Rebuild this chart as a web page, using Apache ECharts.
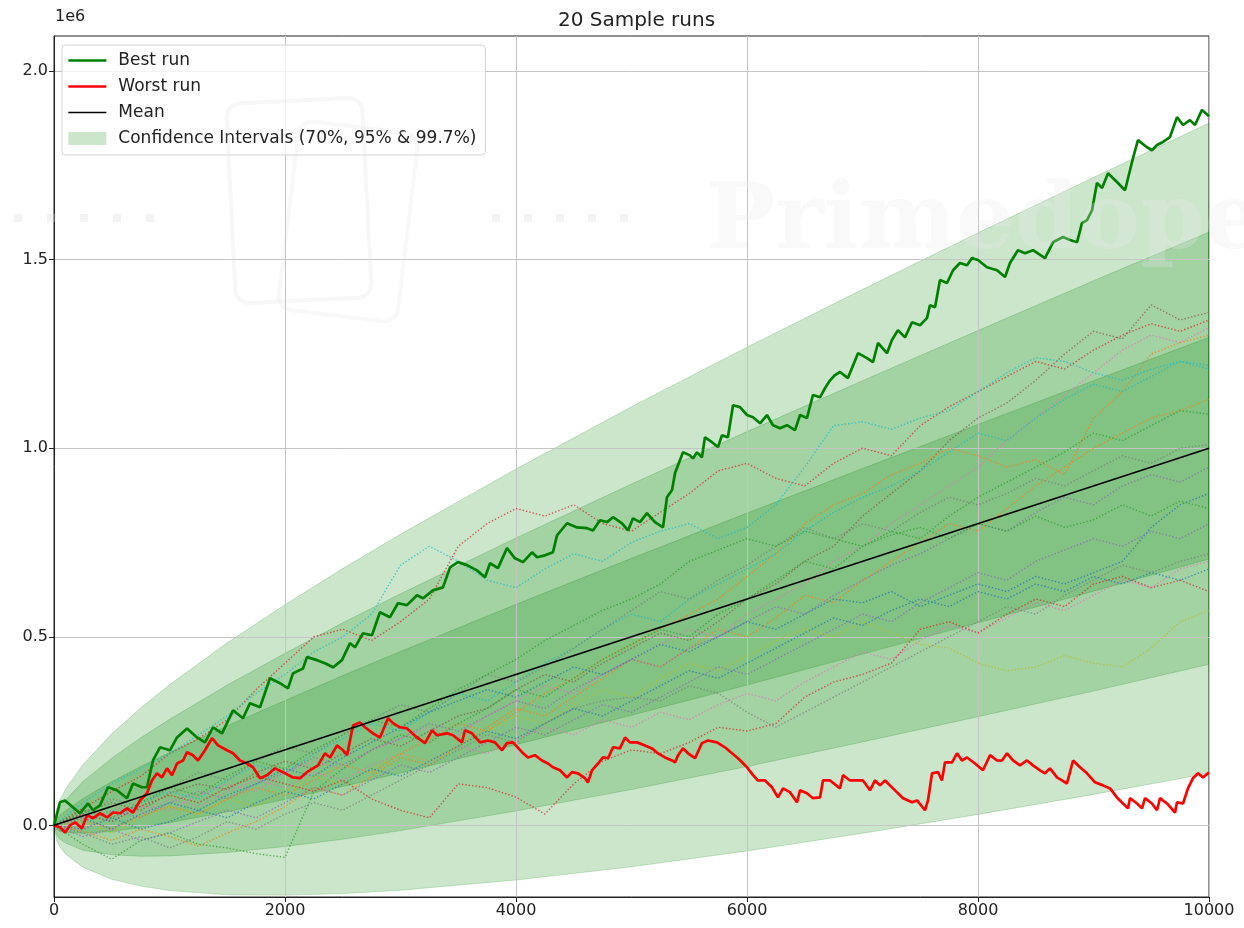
<!DOCTYPE html>
<html>
<head>
<meta charset="utf-8">
<script src="https://cdn.jsdelivr.net/npm/echarts@6/dist/echarts.min.js"></script>
<style>
  html, body { margin: 0; padding: 0; background: #ffffff; }
  #chart { width: 1244px; height: 928px; }
</style>
</head>
<body>
<div id="chart"></div>
<script>
// All balances are in thousands; the y axis is labelled in millions (offset "1e6").

// Confidence bands (70%, 95%, 99.7%) around the expected balance
const bandSteps  = [0, 25, 50, 100, 250, 500, 750, 1000, 1500, 2000, 2500, 3000, 4000, 5000, 6000, 7000, 8000, 9000, 10000];
const ci997Upper = [0, 46, 66, 96, 161, 243, 311, 373, 484, 585, 681, 772, 945, 1110, 1268, 1421, 1571, 1718, 1862];
const ci997Lower = [0, -41, -56, -76, -111, -143, -161, -173, -184, -185, -181, -172, -145, -110, -68, -21, 29, 82, 138];
const ci95Upper  = [0, 31, 46, 67, 116, 178, 232, 281, 372, 456, 537, 614, 762, 905, 1044, 1179, 1312, 1444, 1573];
const ci95Lower  = [0, -26, -36, -47, -66, -78, -82, -81, -72, -56, -37, -14, 38, 95, 156, 221, 288, 356, 427];
const ci70Upper  = [0, 17, 26, 39, 71, 116, 156, 193, 264, 331, 397, 461, 586, 708, 828, 946, 1063, 1179, 1294];
const ci70Lower  = [0, -12, -16, -19, -21, -16, -6, 7, 36, 69, 103, 139, 214, 292, 372, 454, 537, 621, 706];

// Expected balance
const meanLine = [[0, 0], [10000, 1000]];

// Sample runs, balance every 250 steps
const runSteps = [0, 250, 500, 750, 1000, 1250, 1500, 1750, 2000, 2250, 2500, 2750, 3000, 3250, 3500, 3750, 4000, 4250, 4500, 4750, 5000,
                  5250, 5500, 5750, 6000, 6250, 6500, 6750, 7000, 7250, 7500, 7750, 8000, 8250, 8500, 8750, 9000, 9250, 9500, 9750, 10000];
const run01 = [0, 35, 60, 40, 85, 110, 95, 140, 170, 150, 190, 230, 210, 250, 290, 310, 360, 400, 380, 430, 470, 510, 490, 540, 600, 640, 700, 740, 820, 880, 940, 1020, 1080, 1120, 1180, 1250, 1310, 1290, 1380, 1340, 1360];
const run02 = [0, 45, 90, 130, 190, 230, 280, 360, 430, 500, 520, 490, 540, 600, 740, 800, 840, 820, 850, 800, 780, 830, 880, 940, 960, 920, 900, 960, 1000, 980, 1060, 1110, 1150, 1190, 1230, 1210, 1260, 1300, 1330, 1310, 1340];
const run03 = [0, -10, 20, 50, 40, 80, 110, 90, 140, 170, 150, 200, 230, 260, 240, 290, 330, 370, 350, 400, 440, 480, 520, 500, 560, 600, 640, 700, 740, 800, 850, 900, 950, 1020, 1080, 1140, 1200, 1260, 1300, 1280, 1320];
const run04 = [0, 15, -10, 25, 50, 30, 70, 100, 80, 120, 160, 140, 190, 230, 270, 250, 300, 350, 390, 440, 480, 520, 560, 600, 660, 720, 800, 850, 880, 930, 960, 1000, 980, 950, 970, 930, 1080, 1150, 1250, 1280, 1300];
const run05 = [0, 60, 110, 150, 190, 240, 290, 350, 400, 460, 500, 560, 690, 740, 700, 650, 630, 680, 720, 700, 750, 780, 800, 760, 790, 850, 950, 1060, 1070, 1050, 1080, 1100, 1150, 1200, 1240, 1230, 1200, 1180, 1210, 1230, 1220];
const run06 = [0, 30, 10, 60, 90, 70, 120, 160, 140, 190, 230, 270, 250, 300, 350, 330, 380, 430, 470, 520, 560, 540, 600, 640, 680, 720, 780, 830, 870, 900, 940, 990, 1040, 1020, 1080, 1130, 1170, 1150, 1190, 1230, 1210];
const run07 = [0, -15, -40, -10, -30, -55, -20, 10, 50, 100, 80, 130, 180, 160, 210, 260, 310, 290, 340, 390, 440, 420, 470, 520, 500, 550, 610, 590, 650, 700, 750, 800, 780, 840, 900, 950, 1000, 1040, 1080, 1100, 1130];
const run08 = [0, -50, -90, -40, -20, -50, -60, -75, -85, 90, 150, 200, 240, 220, 270, 310, 360, 340, 390, 440, 480, 520, 500, 560, 600, 650, 700, 680, 740, 780, 760, 820, 870, 910, 950, 990, 1040, 1020, 1060, 1100, 1090];
const run09 = [0, 30, 70, 50, 100, 140, 120, 170, 210, 190, 240, 280, 320, 300, 350, 400, 380, 420, 470, 520, 570, 620, 600, 650, 690, 740, 790, 760, 800, 780, 830, 870, 850, 880, 920, 900, 940, 980, 960, 1000, 1010];
const run10 = [0, 10, 40, 20, 60, 90, 70, 110, 140, 180, 160, 200, 230, 270, 250, 290, 330, 310, 360, 400, 440, 420, 470, 500, 540, 580, 560, 610, 650, 690, 720, 760, 800, 780, 830, 870, 850, 900, 930, 910, 950];
const run11 = [0, 20, -10, 30, 60, 40, 80, 110, 150, 130, 180, 220, 260, 300, 330, 360, 340, 380, 420, 400, 440, 480, 460, 500, 540, 520, 560, 600, 590, 620, 580, 610, 640, 620, 660, 640, 670, 700, 790, 850, 880];
const run12 = [0, 40, 20, 60, 100, 80, 130, 170, 150, 200, 240, 280, 260, 310, 360, 400, 440, 490, 530, 570, 600, 640, 700, 730, 760, 740, 780, 760, 740, 770, 790, 760, 800, 780, 820, 790, 810, 850, 820, 860, 840];
const run13 = [0, -30, -10, -40, -20, 10, 40, 20, 60, 100, 80, 120, 160, 140, 180, 220, 260, 240, 280, 320, 300, 340, 380, 420, 400, 440, 480, 520, 560, 540, 590, 630, 670, 650, 700, 730, 760, 740, 780, 760, 800];
const run14 = [0, 20, 50, 30, 70, 50, 90, 120, 100, 140, 120, 160, 190, 170, 210, 190, 230, 260, 240, 280, 260, 300, 280, 320, 350, 330, 380, 420, 460, 440, 490, 530, 510, 550, 590, 570, 610, 650, 630, 680, 700];
const run15 = [0, 30, 10, 50, 80, 60, 100, 130, 110, 90, 120, 70, 40, 20, 110, 100, 75, 30, 110, 170, 200, 190, 220, 260, 250, 270, 340, 380, 400, 430, 520, 540, 510, 560, 600, 580, 640, 660, 630, 650, 620];
const run16 = [0, -20, -50, -30, -60, -30, 10, -10, 30, 60, 40, 80, 120, 160, 200, 240, 220, 270, 310, 330, 340, 330, 370, 350, 300, 260, 300, 340, 380, 420, 460, 500, 540, 580, 560, 610, 650, 690, 670, 700, 720];
const run17 = [0, 10, -20, 20, 50, 30, 70, 50, 90, 130, 110, 150, 190, 170, 210, 250, 290, 270, 320, 360, 340, 390, 430, 410, 450, 490, 520, 500, 540, 510, 480, 470, 430, 410, 420, 450, 430, 420, 470, 540, 570];
const run18 = [0, -10, 20, -10, 10, 40, 20, 60, 90, 70, 110, 150, 130, 170, 210, 250, 230, 270, 310, 290, 330, 370, 410, 390, 430, 470, 510, 550, 530, 570, 600, 580, 620, 600, 640, 620, 660, 640, 670, 650, 680];
const sampleRuns = [run01, run02, run03, run04, run05, run06, run07, run08, run09, run10, run11, run12, run13, run14, run15, run16, run17, run18];
const runColors = ['#8c564b', '#d62728', '#e377c2', '#ff7f0e', '#17becf', '#17becf', '#ff7f0e', '#2ca02c', '#7f7f7f',
                   '#9467bd', '#1f77b4', '#2ca02c', '#9467bd', '#e377c2', '#d62728', '#7f7f7f', '#bcbd22', '#1f77b4'];

// Best and worst runs, [step, balance]
const bestRun = [[0,0],[9,5],[52,61],[95,66],[164,48],[225,32],[294,58],[338,40],[398,53],[468,101],[545,93],[632,72],[684,111],[762,101],[805,101],[857,172],[918,207],[1004,199],[1065,233],[1152,257],[1238,233],[1307,220],[1377,260],[1455,244],[1550,305],[1636,284],[1697,324],[1784,313],[1870,390],[1957,377],[2026,363],[2069,403],[2156,416],[2190,446],[2277,438],[2346,430],[2416,419],[2493,438],[2563,483],[2606,472],[2675,509],[2753,504],[2822,565],[2909,552],[2978,589],[3056,584],[3143,610],[3195,602],[3281,623],[3368,631],[3429,684],[3498,698],[3576,690],[3662,676],[3732,658],[3775,695],[3844,682],[3922,735],[3991,708],[4061,698],[4139,724],[4182,711],[4251,716],[4320,724],[4355,769],[4442,801],[4528,790],[4615,788],[4667,782],[4727,809],[4788,804],[4840,817],[4918,801],[4970,782],[5013,814],[5074,804],[5134,828],[5203,804],[5273,790],[5307,870],[5351,889],[5377,934],[5446,989],[5506,981],[5532,973],[5567,989],[5610,976],[5636,1029],[5697,1016],[5749,1003],[5783,1034],[5835,1029],[5879,1114],[5939,1109],[6000,1088],[6052,1082],[6113,1066],[6173,1088],[6225,1061],[6286,1053],[6346,1061],[6416,1048],[6459,1088],[6519,1080],[6571,1141],[6632,1135],[6675,1159],[6719,1180],[6762,1194],[6805,1202],[6874,1186],[6961,1252],[7039,1239],[7091,1228],[7134,1279],[7212,1252],[7255,1287],[7307,1313],[7368,1294],[7429,1334],[7498,1326],[7558,1345],[7584,1379],[7628,1374],[7671,1446],[7732,1438],[7784,1472],[7844,1491],[7905,1485],[7948,1504],[8000,1499],[8078,1480],[8165,1472],[8234,1454],[8277,1491],[8346,1525],[8407,1517],[8476,1525],[8580,1504],[8649,1546],[8736,1560],[8797,1552],[8857,1546],[8900,1597],[8944,1605],[8987,1631],[9030,1703],[9074,1690],[9126,1729],[9203,1706],[9273,1684],[9316,1737],[9342,1769],[9385,1817],[9463,1798],[9506,1790],[9550,1804],[9602,1812],[9662,1825],[9723,1878],[9775,1857],[9835,1870],[9879,1857],[9939,1897],[9991,1883],[10000,1880]];
const worstRun = [[0,0],[9,0],[52,-5],[95,-19],[139,0],[182,8],[242,-8],[286,27],[338,19],[398,32],[459,21],[511,34],[571,32],[632,45],[684,34],[745,66],[805,85],[848,119],[892,138],[935,127],[978,151],[1022,133],[1065,164],[1117,172],[1152,194],[1203,186],[1247,172],[1307,199],[1368,231],[1420,212],[1498,199],[1550,191],[1610,172],[1671,164],[1723,154],[1784,125],[1844,133],[1913,151],[1983,141],[2069,127],[2130,125],[2190,141],[2242,151],[2286,159],[2346,191],[2390,180],[2450,212],[2502,199],[2537,186],[2589,265],[2649,273],[2693,260],[2762,244],[2822,233],[2892,284],[2935,271],[2996,260],[3056,257],[3143,233],[3212,218],[3273,252],[3316,239],[3403,244],[3455,239],[3532,220],[3558,252],[3619,244],[3688,220],[3758,225],[3818,220],[3879,199],[3922,218],[3974,220],[4052,194],[4104,180],[4164,186],[4225,172],[4277,164],[4320,154],[4381,146],[4442,127],[4485,141],[4537,138],[4597,125],[4623,114],[4658,146],[4710,164],[4753,180],[4797,178],[4840,207],[4900,204],[4944,233],[4987,220],[5048,220],[5117,212],[5177,204],[5229,191],[5290,180],[5351,172],[5377,167],[5403,186],[5446,204],[5489,191],[5550,178],[5610,218],[5662,225],[5740,220],[5809,207],[5870,191],[5922,178],[6000,154],[6052,133],[6095,119],[6156,119],[6216,101],[6268,74],[6312,98],[6372,88],[6433,61],[6459,93],[6519,85],[6571,72],[6632,74],[6658,119],[6719,119],[6805,98],[6831,133],[6892,119],[6952,119],[7004,119],[7065,93],[7108,119],[7152,106],[7195,119],[7264,98],[7351,72],[7429,61],[7472,66],[7541,40],[7567,66],[7602,138],[7654,141],[7688,119],[7714,167],[7775,167],[7818,191],[7861,172],[7905,180],[7974,164],[8043,146],[8104,186],[8165,172],[8208,172],[8251,191],[8303,172],[8364,159],[8424,172],[8476,159],[8537,146],[8580,138],[8623,151],[8684,127],[8727,119],[8770,111],[8823,172],[8883,154],[8944,138],[9013,114],[9082,106],[9143,98],[9203,74],[9255,58],[9299,45],[9316,72],[9377,58],[9420,45],[9446,72],[9506,58],[9550,40],[9576,72],[9636,58],[9706,34],[9723,61],[9775,58],[9818,98],[9861,125],[9905,138],[9948,127],[9991,138],[10000,140]];

// Axis ticks
const yTickValues = [0, 500, 1000, 1500, 2000];

const CI_NAME = 'Confidence Intervals (70%, 95% & 99.7%)';
const FONT = 'DejaVu Sans';
const bandFill = 'rgba(0,128,0,0.2)';

const series = [];

// Each band is one filled polygon: upper edge left to right, lower edge back
[[ci997Lower, ci997Upper], [ci95Lower, ci95Upper], [ci70Lower, ci70Upper]].forEach(([lo, hi]) => {
  series.push({
    type: 'custom', name: CI_NAME, coordinateSystem: 'cartesian2d',
    clip: true, silent: true, z: 0,
    itemStyle: { color: bandFill },
    data: [[0, 0]],
    renderItem: (params, api) => {
      const top = bandSteps.map((s, j) => api.coord([s, hi[j]]));
      const bottom = bandSteps.map((s, j) => api.coord([s, lo[j]])).reverse();
      return {
        type: 'polygon',
        shape: { points: top.concat(bottom) },
        style: { fill: bandFill, stroke: bandFill, lineWidth: 1 }
      };
    }
  });
});

// Dotted sample runs
sampleRuns.forEach((run, i) => {
  series.push({
    type: 'line', name: 'run-' + (i + 1),
    data: runSteps.map((s, j) => [s, run[j]]),
    symbol: 'none', silent: true, z: 2,
    lineStyle: { width: 1.4, type: [1.4, 2.0], color: runColors[i], opacity: 0.75 }
  });
});

series.push({
  type: 'line', name: 'Best run', data: bestRun, symbol: 'none', z: 3, color: '#008000',
  lineStyle: { width: 2.7, color: '#008000' }
});
series.push({
  type: 'line', name: 'Worst run', data: worstRun, symbol: 'none', z: 3, color: '#ff0000',
  lineStyle: { width: 2.7, color: '#ff0000' }
});
series.push({
  type: 'line', name: 'Mean', data: meanLine, symbol: 'none', z: 3, color: '#000000',
  lineStyle: { width: 1.6, color: '#000000' }
});

// Legend entries: plain line swatches for the runs, a filled patch for the bands
const hiddenMarker = { color: 'rgba(0,0,0,0)', borderWidth: 0, opacity: 0 };
const legendData = [
  { name: 'Best run', itemStyle: hiddenMarker, lineStyle: { width: 2.7, color: '#008000' } },
  { name: 'Worst run', itemStyle: hiddenMarker, lineStyle: { width: 2.7, color: '#ff0000' } },
  { name: 'Mean', itemStyle: hiddenMarker, lineStyle: { width: 1.6, color: '#000000' } },
  { name: CI_NAME, icon: 'rect', itemStyle: { color: bandFill, borderWidth: 0 } }
];

// Faint watermark squares
const watermarkDots = [];
[14, 47, 80, 113, 146, 492, 524, 556, 588, 620].forEach(x => {
  watermarkDots.push({
    type: 'rect', x: x, y: 214, z: 50, silent: true,
    shape: { width: 8, height: 8 }, style: { fill: 'rgba(215,215,215,0.3)' }
  });
});

const chart = echarts.init(document.getElementById('chart'), null, { renderer: 'canvas' });
chart.setOption({
  animation: false,
  backgroundColor: '#ffffff',
  title: {
    text: '20 Sample runs', left: 631.5, top: 6, textAlign: 'center',
    textStyle: { fontFamily: FONT, fontSize: 20, fontWeight: 'normal', color: '#222222' }
  },
  grid: {
    left: 54, right: 35, top: 36, bottom: 31,
    show: true, borderColor: '#222222', borderWidth: 1, backgroundColor: 'transparent'
  },
  legend: {
    orient: 'vertical', left: 62, top: 45,
    padding: [7, 9, 8, 5], itemGap: 9, itemWidth: 38, itemHeight: 13,
    backgroundColor: 'rgba(255,255,255,0.8)', borderColor: '#d4d4d4', borderWidth: 1, borderRadius: 4,
    textStyle: { fontFamily: FONT, fontSize: 17, color: '#222222', padding: [0, 0, 0, 7] },
    selectedMode: false,
    data: legendData
  },
  xAxis: {
    type: 'value', min: 0, max: 10000, interval: 2000, z: 1,
    axisLine: { show: true, onZero: false, lineStyle: { color: '#222222', width: 1 } },
    axisTick: { show: true, length: 5, lineStyle: { color: '#222222' } },
    axisLabel: { fontFamily: FONT, fontSize: 16, color: '#222222', margin: 6, formatter: v => String(v) },
    splitLine: { show: true, lineStyle: { color: '#c4c4c4', width: 1 } }
  },
  yAxis: {
    type: 'value', min: -190, max: 2093, z: 1,
    axisLine: { show: true, onZero: false, lineStyle: { color: '#222222', width: 1 } },
    axisTick: { show: true, length: 5, customValues: yTickValues, lineStyle: { color: '#222222' } },
    axisLabel: {
      customValues: yTickValues, fontFamily: FONT, fontSize: 16, color: '#222222', margin: 6,
      formatter: v => (v / 1000).toFixed(1)
    },
    splitLine: { show: true, lineStyle: { color: '#c4c4c4', width: 1 } }
  },
  graphic: [
    // axis offset multiplier
    { type: 'text', left: 55, top: 9, style: { text: '1e6', fontFamily: FONT, fontSize: 16, fill: '#222222' } },
    // faint watermark
    { type: 'text', left: 706, top: 178, z: 50, silent: true,
      style: { text: 'Primedope', fontFamily: 'DejaVu Serif', fontWeight: 'bold', fontSize: 92, fill: 'rgba(232,232,232,0.28)' } },
    { type: 'rect', x: 226, y: 104, rotation: 0.05, z: 50, silent: true,
      shape: { width: 136, height: 200, r: 14 },
      style: { fill: 'none', stroke: 'rgba(215,215,215,0.2)', lineWidth: 4 } },
    { type: 'rect', x: 300, y: 120, rotation: -0.12, z: 50, silent: true,
      shape: { width: 120, height: 190, r: 14 },
      style: { fill: 'none', stroke: 'rgba(215,215,215,0.18)', lineWidth: 4 } }
  ].concat(watermarkDots),
  series: series
});
</script>
</body>
</html>
